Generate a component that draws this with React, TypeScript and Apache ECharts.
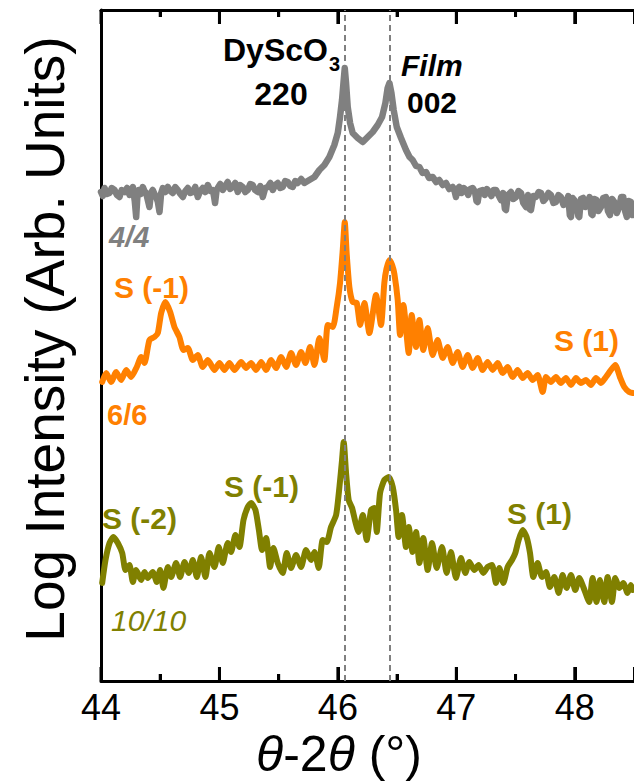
import React, { useEffect, useRef } from 'react';
import * as echarts from 'echarts';

// x: theta-2theta (deg), y: log intensity (arbitrary units, curves offset)
const series44: [number, number][] = [
  [44.0, 489], [44.015, 485], [44.03, 493], [44.05, 487], [44.072, 488], [44.09, 493], [44.114, 491],
  [44.135, 486], [44.156, 484], [44.175, 491], [44.198, 489], [44.22, 493], [44.241, 486], [44.255, 490],
  [44.269, 494], [44.285, 480], [44.297, 464], [44.308, 486], [44.319, 491], [44.335, 487], [44.353, 494],
  [44.367, 490], [44.381, 488], [44.397, 480], [44.409, 474], [44.422, 488], [44.437, 491], [44.452, 487],
  [44.466, 484], [44.48, 479], [44.494, 469], [44.508, 488], [44.522, 493], [44.543, 489], [44.564, 494],
  [44.585, 490], [44.606, 488], [44.627, 494], [44.648, 491], [44.67, 487], [44.691, 484], [44.712, 490],
  [44.733, 493], [44.754, 488], [44.775, 489], [44.796, 494], [44.817, 484], [44.838, 490], [44.859, 493],
  [44.88, 489], [44.902, 496], [44.923, 490], [44.944, 491], [44.955, 484], [44.963, 478], [44.975, 490],
  [44.986, 493], [45.007, 497], [45.028, 491], [45.05, 495], [45.07, 499], [45.09, 492], [45.112, 494],
  [45.133, 498], [45.155, 489], [45.175, 496], [45.197, 494], [45.218, 489], [45.239, 491], [45.26, 497],
  [45.281, 496], [45.3, 491], [45.323, 489], [45.345, 495], [45.366, 484], [45.387, 493], [45.408, 494],
  [45.43, 498], [45.45, 491], [45.47, 496], [45.492, 498], [45.513, 493], [45.534, 494], [45.555, 500],
  [45.577, 499], [45.598, 495], [45.619, 494], [45.64, 500], [45.661, 498], [45.69, 502], [45.717, 498],
  [45.759, 501], [45.802, 504], [45.844, 511], [45.886, 516], [45.928, 524], [45.97, 536], [45.999, 548],
  [46.018, 564], [46.035, 581], [46.047, 598], [46.058, 613], [46.069, 598], [46.083, 574], [46.103, 558],
  [46.125, 548], [46.167, 543], [46.21, 539], [46.252, 544], [46.294, 549], [46.336, 556], [46.373, 564],
  [46.401, 578], [46.42, 593], [46.435, 598], [46.452, 588], [46.471, 571], [46.497, 554], [46.533, 543],
  [46.575, 531], [46.605, 524], [46.631, 521], [46.66, 515], [46.688, 514], [46.715, 508], [46.744, 509],
  [46.77, 503], [46.8, 504], [46.83, 499], [46.856, 501], [46.885, 496], [46.913, 498], [46.94, 492],
  [46.969, 494], [46.985, 490], [46.997, 484], [47.01, 492], [47.025, 494], [47.045, 488], [47.062, 493],
  [47.082, 491], [47.1, 486], [47.118, 492], [47.138, 493], [47.158, 489], [47.17, 480], [47.18, 479],
  [47.195, 490], [47.222, 491], [47.24, 486], [47.258, 492], [47.278, 489], [47.296, 485], [47.315, 491],
  [47.335, 491], [47.355, 486], [47.377, 481], [47.395, 488], [47.41, 472], [47.419, 471], [47.435, 486],
  [47.461, 489], [47.48, 482], [47.504, 484], [47.525, 490], [47.546, 488], [47.565, 478], [47.588, 474],
  [47.605, 486], [47.618, 472], [47.63, 471], [47.65, 485], [47.672, 484], [47.695, 489], [47.715, 488],
  [47.735, 480], [47.757, 483], [47.778, 488], [47.799, 486], [47.82, 478], [47.841, 479], [47.862, 486],
  [47.883, 484], [47.905, 476], [47.925, 478], [47.945, 485], [47.958, 466], [47.968, 464], [47.982, 483],
  [47.996, 481], [48.015, 476], [48.03, 465], [48.038, 464], [48.052, 482], [48.071, 483], [48.09, 474],
  [48.108, 478], [48.125, 484], [48.14, 467], [48.15, 466], [48.165, 482], [48.184, 481], [48.2, 470],
  [48.221, 474], [48.24, 483], [48.263, 484], [48.28, 470], [48.297, 466], [48.315, 482], [48.333, 479],
  [48.355, 468], [48.375, 474], [48.392, 484], [48.409, 484], [48.425, 470], [48.44, 464], [48.455, 480],
  [48.474, 479], [48.488, 466], [48.5, 474],
];

const series66: [number, number][] = [
  [44.01, 299], [44.044, 308], [44.086, 299], [44.128, 309], [44.17, 301], [44.213, 311], [44.255, 304],
  [44.302, 314], [44.339, 324], [44.367, 318], [44.409, 341], [44.451, 344], [44.48, 348], [44.508, 368],
  [44.544, 379], [44.584, 369], [44.62, 354], [44.662, 344], [44.696, 331], [44.733, 333], [44.775, 321],
  [44.817, 326], [44.859, 314], [44.902, 321], [44.958, 311], [45.0, 318], [45.042, 311], [45.084, 318],
  [45.127, 311], [45.183, 319], [45.225, 313], [45.267, 318], [45.309, 311], [45.352, 319], [45.394, 311],
  [45.436, 321], [45.478, 313], [45.52, 324], [45.563, 314], [45.605, 328], [45.647, 316], [45.689, 329],
  [45.726, 318], [45.765, 334], [45.802, 316], [45.844, 343], [45.886, 321], [45.915, 356], [45.957, 354],
  [45.99, 374], [46.018, 398], [46.041, 431], [46.058, 459], [46.074, 428], [46.097, 394], [46.125, 379],
  [46.159, 378], [46.188, 356], [46.224, 378], [46.266, 348], [46.322, 386], [46.364, 356], [46.392, 398],
  [46.41, 412], [46.435, 421], [46.458, 416], [46.477, 407], [46.505, 381], [46.525, 346], [46.553, 376],
  [46.598, 328], [46.623, 366], [46.66, 334], [46.688, 361], [46.721, 331], [46.758, 353], [46.8, 326],
  [46.842, 341], [46.885, 323], [46.927, 334], [46.969, 318], [47.011, 329], [47.053, 314], [47.096, 326],
  [47.138, 313], [47.18, 323], [47.222, 311], [47.264, 319], [47.307, 311], [47.349, 318], [47.391, 308],
  [47.433, 314], [47.475, 304], [47.517, 311], [47.56, 303], [47.602, 308], [47.644, 301], [47.686, 306],
  [47.729, 289], [47.757, 304], [47.799, 299], [47.841, 304], [47.883, 298], [47.925, 303], [47.968, 296],
  [48.01, 303], [48.052, 298], [48.094, 301], [48.136, 296], [48.179, 303], [48.221, 298], [48.263, 304],
  [48.305, 311], [48.342, 316], [48.381, 304], [48.418, 294], [48.46, 289], [48.49, 288],
];

const series1010: [number, number][] = [
  [44.01, 98], [44.038, 121], [44.072, 138], [44.105, 144], [44.142, 138], [44.179, 128], [44.207, 111],
  [44.24, 116], [44.269, 99], [44.297, 111], [44.339, 101], [44.367, 109], [44.395, 103], [44.437, 109],
  [44.471, 99], [44.499, 111], [44.527, 93], [44.564, 114], [44.592, 104], [44.634, 118], [44.668, 104],
  [44.705, 119], [44.741, 108], [44.775, 121], [44.809, 104], [44.845, 124], [44.882, 104], [44.916, 128],
  [44.958, 114], [44.994, 134], [45.028, 118], [45.07, 138], [45.098, 129], [45.135, 146], [45.169, 134],
  [45.203, 161], [45.239, 174], [45.267, 178], [45.304, 171], [45.333, 151], [45.36, 131], [45.394, 143],
  [45.428, 114], [45.456, 133], [45.492, 118], [45.534, 108], [45.568, 128], [45.605, 113], [45.647, 126],
  [45.689, 114], [45.731, 131], [45.774, 121], [45.802, 129], [45.838, 113], [45.872, 141], [45.906, 139],
  [45.942, 154], [45.985, 166], [46.013, 194], [46.035, 221], [46.049, 239], [46.069, 208], [46.091, 181],
  [46.12, 173], [46.148, 159], [46.175, 149], [46.21, 166], [46.243, 141], [46.28, 171], [46.308, 173],
  [46.328, 149], [46.356, 188], [46.392, 201], [46.429, 204], [46.463, 194], [46.491, 171], [46.513, 144],
  [46.541, 166], [46.575, 134], [46.598, 154], [46.631, 129], [46.66, 149], [46.688, 118], [46.721, 143],
  [46.758, 111], [46.795, 138], [46.834, 113], [46.879, 134], [46.918, 108], [46.955, 129], [46.997, 103],
  [47.039, 123], [47.076, 108], [47.11, 119], [47.152, 111], [47.188, 116], [47.228, 108], [47.264, 114],
  [47.301, 116], [47.335, 98], [47.363, 113], [47.397, 98], [47.433, 114], [47.47, 121], [47.498, 128],
  [47.526, 141], [47.56, 151], [47.593, 144], [47.622, 128], [47.65, 104], [47.686, 118], [47.723, 104],
  [47.757, 109], [47.79, 94], [47.827, 104], [47.864, 88], [47.897, 106], [47.931, 93], [47.968, 106],
  [48.004, 91], [48.038, 103], [48.072, 94], [48.122, 79], [48.15, 103], [48.184, 79], [48.212, 101],
  [48.249, 79], [48.277, 104], [48.314, 79], [48.342, 103], [48.376, 93], [48.409, 98], [48.446, 88],
  [48.474, 96], [48.49, 91],
];

const referencePeaks = [46.06, 46.44];
const majorTicks = [44, 45, 46, 47, 48];
const minorTicks = [44.5, 45.5, 46.5, 47.5];
const sampleNames = ['4/4', '6/6', '10/10'];
const sampleColors = ['#808080', '#FF8000', '#808000'];

const FONT = '"Liberation Sans", Arial, Helvetica, sans-serif';
const Y_MAX = 671; // one y unit per plot pixel
const MAJOR_LEN = 14;
const MINOR_LEN = 7;

function txt(
  text: string, x: number, y: number, color: string, size: number,
  weight = 'bold', fontStyle = 'normal', align = 'left'
) {
  return {
    type: 'text', x, y, z: 100, silent: true,
    style: {
      text, fill: color, fontSize: size, fontWeight: weight, fontStyle,
      fontFamily: FONT, align, verticalAlign: 'middle',
    },
  };
}

export default function App() {
  const ref = useRef<HTMLDivElement>(null);
  useEffect(() => {
    if (!ref.current) return;
    const chart = echarts.init(ref.current, undefined, { renderer: 'svg' });
    const datasets = [series44, series66, series1010];
    const series: any[] = datasets.map((d, i) => ({
      name: sampleNames[i],
      type: 'line',
      data: d,
      symbol: 'none',
      showSymbol: false,
      smooth: i === 0 ? false : 0.2,
      clip: true,
      lineStyle: { color: sampleColors[i], width: i === 0 ? 6.5 : 6, join: 'round', cap: 'round' },
      z: 2 + i,
    }));
    series[2].markLine = {
      silent: true,
      symbol: ['none', 'none'],
      label: { show: false },
      lineStyle: { color: '#808080', type: [6, 4], width: 2 },
      data: referencePeaks.map((v) => ({ xAxis: v })),
    };
    const axisBase = {
      type: 'value', min: 44, max: 48.5, interval: 1,
      axisLine: { show: true, onZero: false, lineStyle: { color: '#000', width: 3 } },
      axisTick: { show: true, inside: true, length: MAJOR_LEN, lineStyle: { color: '#000', width: 3 } },
      minorTick: { show: true, splitNumber: 2, length: MINOR_LEN, lineStyle: { color: '#000', width: 3 } },
      splitLine: { show: false },
    };
    const texts: any[] = [
      txt('DyScO', 223, 50, '#000', 32),
      txt('3', 329, 64, '#000', 20),
      txt('220', 281, 94, '#000', 32, 'bold', 'normal', 'center'),
      txt('Film', 401, 65, '#000', 30, 'bold', 'italic'),
      txt('002', 407, 102, '#000', 30),
      txt(sampleNames[0], 109, 237, sampleColors[0], 29, 'bold', 'italic'),
      txt('S (-1)', 114, 287, sampleColors[1], 30),
      txt('S (1)', 554, 340, sampleColors[1], 30),
      txt(sampleNames[1], 107, 415, sampleColors[1], 29),
      txt('S (-2)', 102, 518, sampleColors[2], 30),
      txt('S (-1)', 224, 486, sampleColors[2], 30),
      txt('S (1)', 507, 513, sampleColors[2], 30),
      txt(sampleNames[2], 111, 620, sampleColors[2], 30, 'normal', 'italic'),
      {
        type: 'text', x: 45, y: 339, rotation: Math.PI / 2, silent: true,
        style: {
          text: 'Log Intensity (Arb. Units)', fill: '#000', fontSize: 55, fontFamily: FONT,
          align: 'center', verticalAlign: 'middle',
        },
      },
      {
        type: 'text', x: 339, y: 754, silent: true,
        style: {
          text: '{i|θ}-2{i|θ} (°)', fill: '#000', fontSize: 50, fontFamily: FONT,
          align: 'center', verticalAlign: 'middle',
          rich: { i: { fontStyle: 'italic', fontSize: 50, fontFamily: FONT, fill: '#000' } },
        },
      },
    ];
    const buildOption = (extraGraphic: any[]) => ({
      animation: false,
      tooltip: { show: false },
      grid: { left: 101, right: 0, top: 10, bottom: 101 },
      xAxis: [
        { ...axisBase, position: 'bottom',
          axisLabel: { color: '#000', fontSize: 36, fontFamily: FONT, margin: 8, showMaxLabel: false } },
        { ...axisBase, position: 'top', axisLabel: { show: false } },
      ],
      yAxis: {
        type: 'value', min: 0, max: Y_MAX,
        axisLine: { show: true, onZero: false, lineStyle: { color: '#000', width: 3 } },
        axisTick: { show: false }, axisLabel: { show: false }, splitLine: { show: false },
      },
      series,
      graphic: [...texts, ...extraGraphic],
    });
    chart.setOption(buildOption([]));
    // inside ticks on bottom and top, located through the chart's own scales
    const ticks: any[] = [];
    const addTick = (v: number, len: number) => {
      const b = chart.convertToPixel({ xAxisIndex: 0, yAxisIndex: 0 } as any, [v, 0]) as number[];
      const t = chart.convertToPixel({ xAxisIndex: 0, yAxisIndex: 0 } as any, [v, Y_MAX]) as number[];
      if (!b || !t || !isFinite(b[0])) return;
      ticks.push({
        type: 'polyline', z: 90, silent: true,
        shape: { points: [[b[0], b[1]], [b[0], b[1] - len]] },
        style: { stroke: '#000', lineWidth: 3, fill: 'none' },
      });
      ticks.push({
        type: 'polyline', z: 90, silent: true,
        shape: { points: [[t[0], t[1]], [t[0], t[1] + len]] },
        style: { stroke: '#000', lineWidth: 3, fill: 'none' },
      });
    };
    majorTicks.forEach((v) => addTick(v, MAJOR_LEN));
    minorTicks.forEach((v) => addTick(v, MINOR_LEN));
    chart.setOption(buildOption(ticks), { notMerge: true });
    return () => chart.dispose();
  }, []);
  return <div ref={ref} style={{ position: 'absolute', left: 0, top: 0, width: 634, height: 782 }} />;
}
